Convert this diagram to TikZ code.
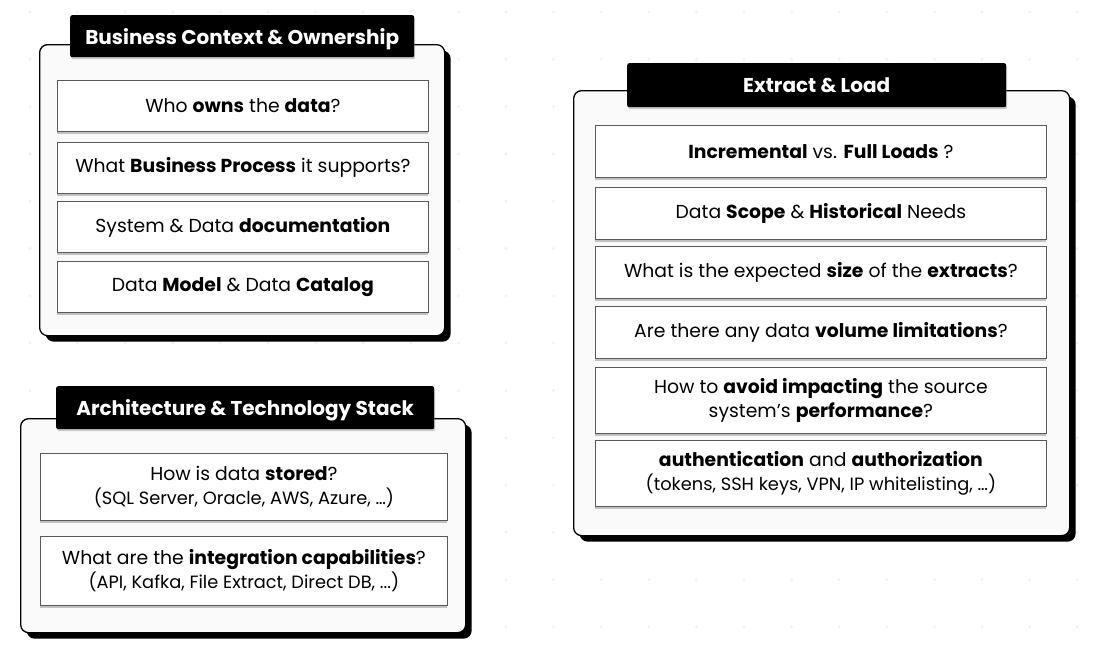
\documentclass[tikz,border=0pt]{standalone}
\usepackage{fontspec}
\setmainfont{Poppins}
\usetikzlibrary{shadows}

\tikzset{
  panel/.style={draw=black, line width=1.3pt, rounded corners=8pt, fill=gray!4,
    anchor=north west, inner sep=0pt,
    drop shadow={shadow xshift=6pt, shadow yshift=-6pt, fill=black, opacity=1}},
  paneltitle/.style={fill=black, text=white, rounded corners=2pt, anchor=north west,
    inner sep=0pt, text depth=0pt, font=\fontsize{20}{24}\selectfont\bfseries,
    drop shadow={shadow xshift=1pt, shadow yshift=-2pt, fill=gray, opacity=.4}},
  qbox/.style={draw=gray!70!black, line width=.8pt, fill=white, anchor=north west,
    inner sep=0pt, align=center, font=\fontsize{18.8}{24}\selectfont,
    drop shadow={shadow xshift=0pt, shadow yshift=-3pt, fill=gray, opacity=.45}},
  bgdot/.style={fill=gray!10, draw=none}
}
\newcommand{\subline}[1]{{\fontsize{17.8}{22}\selectfont #1}}

\begin{document}
\begin{tikzpicture}[x=1pt, y=-1pt]
  \useasboundingbox (0,0) rectangle (1102,649);
  \fill[white] (0,0) rectangle (1102,649);

  % dotted canvas
  \foreach \i in {0,...,22}
    \foreach \j in {0,...,13}
      \fill[bgdot] (30+47.6*\i, 12+47.3*\j) circle (1.6);

  % Business Context & Ownership
  \node[panel, minimum width=405, minimum height=291] (bizpanel) at (39,44) {};
  \node[paneltitle, minimum width=344, minimum height=42] (biztitle) at (70,15) {Business Context \& Ownership};
  \node[qbox, minimum width=371, minimum height=51] (owner) at (57,80) {Who \textbf{owns} the \textbf{data}?};
  \node[qbox, minimum width=371, minimum height=51] (process) at (57,142) {What \textbf{Business Process} it supports?};
  \node[qbox, minimum width=371, minimum height=51] (docs) at (57,201) {System \& Data \textbf{documentation}};
  \node[qbox, minimum width=371, minimum height=51] (catalog) at (57,261) {Data \textbf{Model} \& Data \textbf{Catalog}};

  % Architecture & Technology Stack
  \node[panel, minimum width=445, minimum height=214] (archpanel) at (20,418) {};
  \node[paneltitle, minimum width=378, minimum height=43] (archtitle) at (56,386) {Architecture \& Technology Stack};
  \node[qbox, minimum width=407, minimum height=67] (stored) at (40,453)
    {How is data \textbf{stored}?\\ \subline{(SQL Server, Oracle, AWS, Azure, \dots)}};
  \node[qbox, minimum width=407, minimum height=69] (integ) at (40,536)
    {What are the \textbf{integration capabilities}?\\ \subline{(API, Kafka, File Extract, Direct DB, ...)}};

  % Extract & Load
  \node[panel, minimum width=496, minimum height=445] (elpanel) at (573,90) {};
  \node[paneltitle, minimum width=379, minimum height=44] (eltitle) at (627,63) {Extract \& Load};
  \node[qbox, minimum width=451, minimum height=52] (incr) at (595,125) {\textbf{Incremental} vs. \textbf{Full Loads} ?};
  \node[qbox, minimum width=451, minimum height=52] (scope) at (595,187) {Data \textbf{Scope} \& \textbf{Historical} Needs};
  \node[qbox, minimum width=451, minimum height=52] (size) at (595,246) {What is the expected \textbf{size} of the \textbf{extracts}?};
  \node[qbox, minimum width=451, minimum height=52] (volume) at (595,306) {Are there any data \textbf{volume limitations}?};
  \node[qbox, minimum width=451, minimum height=66] (impact) at (595,367)
    {How to \textbf{avoid impacting} the source\\ system's \textbf{performance}?};
  \node[qbox, minimum width=451, minimum height=66] (auth) at (595,440)
    {\textbf{authentication} and \textbf{authorization}\\ \subline{(tokens, SSH keys, VPN, IP whitelisting, \dots)}};
\end{tikzpicture}
\end{document}
